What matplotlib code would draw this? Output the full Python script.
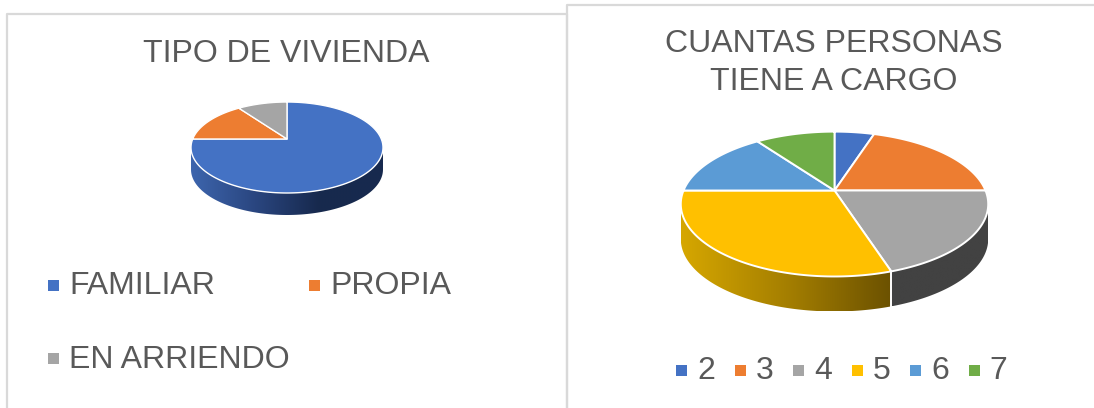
import numpy as np
import matplotlib
matplotlib.use("Agg")
import matplotlib.pyplot as plt
from matplotlib.colors import LinearSegmentedColormap
from matplotlib.patches import Polygon, Rectangle

plt.rcParams['font.family'] = ['Liberation Sans', 'DejaVu Sans']

# Data
vivienda_labels = ["FAMILIAR", "PROPIA", "EN ARRIENDO"]
vivienda_values = [75, 15, 10]
cargo_labels = ["2", "3", "4", "5", "6", "7"]
cargo_values = [5, 20, 20, 30, 15, 10]

# Colours
BLUE, ORANGE, GRAY, YELLOW, LIGHTBLUE, GREEN = "#4472C4", "#ED7D31", "#A5A5A5", "#FFC000", "#5B9BD5", "#70AD47"
vivienda_colors = [BLUE, ORANGE, GRAY]
cargo_colors = [BLUE, ORANGE, GRAY, YELLOW, LIGHTBLUE, GREEN]
vivienda_side = [["#3D65AD", "#2A4680", "#17294D", "#172A4F"], None, None]
cargo_side = [None, None, ["#424242", "#424242"], ["#D6A700", "#A57F00", "#6B5100"], None, None]
TEXT = "#595959"
FRAME = "#D9D9D9"
FONT = 23

# Perspective of the tilted disc
TILT = 0.187
FRONT_START, FRONT_END = 100.8, 259.2  # where the rim faces the viewer


def project(angle, cx, cy, rx, ry):
    a = np.radians(angle)
    w = 1 + TILT * np.cos(a)
    return cx + rx * np.sin(a) / w, cy - ry * np.cos(a) / w


def draw_pie(ax, values, colors, sides, cx, cy, rx, ry, depth, lw):
    stops = np.cumsum([0] + list(values)) / np.sum(values) * 360

    # Rim first, the top then covers whatever is behind
    for i in range(len(values)):
        a0, a1 = max(stops[i], FRONT_START), min(stops[i + 1], FRONT_END)
        if a1 <= a0:
            continue
        x, y = project(np.linspace(a0, a1, 120), cx, cy, rx, ry)
        px = np.r_[x, x[::-1]]
        py = np.r_[y, y[::-1] + depth]
        rim = Polygon(np.c_[px, py], closed=True, fc="none", ec="none")
        ax.add_patch(rim)
        cmap = LinearSegmentedColormap.from_list("rim", sides[i])
        grad = np.linspace(0, 1, 256).reshape(1, -1)
        im = ax.imshow(grad, cmap=cmap, aspect="auto", interpolation="bilinear",
                       extent=[px.min(), px.max(), py.max(), py.min()], zorder=1)
        im.set_clip_path(rim)
        # white seam between rim segments
        if stops[i + 1] < FRONT_END:
            ax.plot([x[-1], x[-1]], [y[-1], y[-1] + depth], color="white", lw=lw, zorder=2)

    # Top
    for i in range(len(values)):
        x, y = project(np.linspace(stops[i], stops[i + 1], 200), cx, cy, rx, ry)
        ax.fill(np.r_[cx, x], np.r_[cy, y], fc=colors[i], ec="white", lw=lw,
                joinstyle="round", zorder=3)


fig = plt.figure(figsize=(10.94, 4.08), dpi=100)
ax = fig.add_axes([0, 0, 1, 1])

# Panel frames
ax.plot([6.5, 6.5, 566.5, 566.5], [408, 13.5, 13.5, 408], color=FRAME, lw=1.6, zorder=0)
ax.plot([566.5, 566.5, 1094], [408, 4.5, 4.5], color=FRAME, lw=1.6, zorder=0)

# Left chart
ax.text(286.5, 53.5, "TIPO DE VIVIENDA", ha="center", va="center", fontsize=FONT, color=TEXT)
draw_pie(ax, vivienda_values, vivienda_colors, vivienda_side, 287, 139, 94.3, 43.9, 22, 1.0)

left_legend_xy = [(48, 286.5), (309, 286.5), (48, 359.5)]
for (lx, ly), lab, col in zip(left_legend_xy, vivienda_labels, vivienda_colors):
    ax.add_patch(Rectangle((lx, ly - 6.5), 11, 11, fc=col, ec="none"))
    ax.text(lx + 21, ly, lab, ha="left", va="center", fontsize=FONT, color=TEXT)

# Right chart
ax.text(834, 44.5, "CUANTAS PERSONAS", ha="center", va="center", fontsize=FONT, color=TEXT)
ax.text(834, 82, "TIENE A CARGO", ha="center", va="center", fontsize=FONT, color=TEXT)
draw_pie(ax, cargo_values, cargo_colors, cargo_side, 834.5, 190.5, 151, 69.9, 35, 1.4)

for i, (lab, col) in enumerate(zip(cargo_labels, cargo_colors)):
    lx = 676 + i * 58.5
    ax.add_patch(Rectangle((lx, 364.5), 11, 11, fc=col, ec="none"))
    ax.text(lx + 21, 371, lab, ha="left", va="center", fontsize=FONT, color=TEXT)

ax.set_xlim(0, 1094)
ax.set_ylim(408, 0)
ax.axis("off")

fig.savefig("out.png", dpi=100)
